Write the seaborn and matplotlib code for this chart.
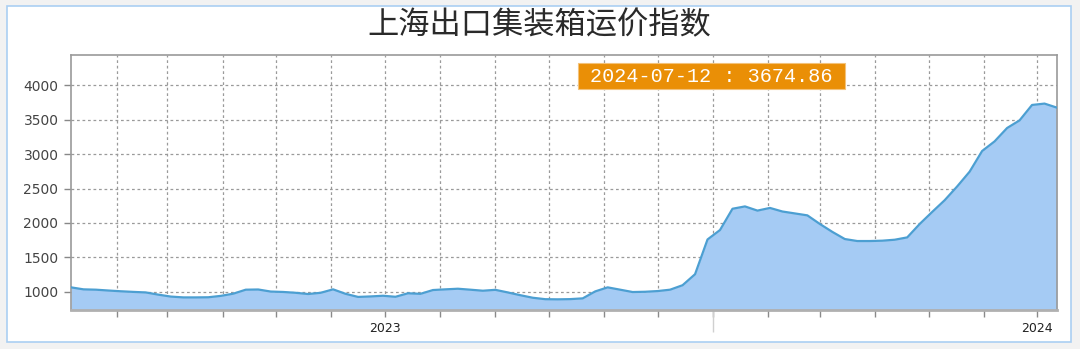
import matplotlib
matplotlib.use("Agg")
import matplotlib.pyplot as plt
import matplotlib.dates as mdates
from matplotlib.patches import Rectangle
import numpy as np
import pandas as pd
import seaborn as sns

# ---- data (weekly index readings) ----
start_date = "2023-01-06"
n_weeks = 80
index_values = [
    1064, 1035, 1030, 1018, 1007, 998, 990, 958, 930, 918,
    918, 920, 940, 972, 1030, 1033, 1003, 997, 985, 967,
    985, 1035, 970, 925, 932, 942, 927, 978, 970, 1025,
    1035, 1044, 1030, 1015, 1028, 990, 950, 913, 892, 890,
    893, 904, 1005, 1064, 1030, 996, 1000, 1010, 1030, 1095,
    1255, 1760, 1897, 2206, 2240, 2179, 2218, 2166, 2138, 2110,
    1985, 1870, 1766, 1737, 1737, 1742, 1756, 1790, 1985, 2160,
    2330, 2530, 2745, 3045, 3185, 3379, 3490, 3714, 3734, 3674.86,
]
title_text = "上海出口集装箱运价指数"
y_ticks = [1000, 1500, 2000, 2500, 3000, 3500, 4000]
year_labels = {"2023-07-01": "2023", "2024-07-01": "2024"}
year_break = "2024-01-01"

dates = pd.date_range(start_date, periods=n_weeks, freq="7D")
df = pd.DataFrame({"date": dates, "value": index_values})

# ---- style ----
sns.set_style("white")
plt.rcParams["font.family"] = ["DejaVu Sans"]

W, H = 1080, 349
fig = plt.figure(figsize=(W / 100, H / 100), dpi=100, facecolor="#f2f2f2")

# white panel with light-blue border
panel = Rectangle((7 / W, 1 - 342 / H), (1071 - 7) / W, (342 - 6) / H,
                  transform=fig.transFigure, facecolor="white",
                  edgecolor="#aacff2", lw=1.2, zorder=-5)
fig.patches.append(panel)

ax = fig.add_axes([71 / W, 1 - 310 / H, (1057 - 71) / W, (310 - 55) / H])
ax.set_zorder(1)
ax.set_facecolor("white")

ax.fill_between(df["date"], df["value"], 700, color="#a5cbf4", lw=0, zorder=2)
sns.lineplot(data=df, x="date", y="value", ax=ax, color="#4c9fd2", lw=1.6, zorder=3)

ax.set_xlim(dates[0], dates[-1])
ax.set_ylim(735, 4440)

# x ticks: month starts, labels only at two positions
month_ticks = pd.date_range("2023-02-01", dates[-1], freq="MS")
ax.xaxis.remove_overlapping_locs = False
ax.set_xticks(month_ticks)
ax.set_xticklabels([year_labels.get(d.strftime("%Y-%m-%d"), "") for d in month_ticks])
ax.set_xticks([pd.Timestamp(year_break)], minor=True)
ax.tick_params(axis="x", which="both", bottom=True)
ax.tick_params(axis="x", which="major", direction="out", length=5, width=1,
               color="#8a8a8a", labelsize=9, labelcolor="#222222", pad=4)
ax.tick_params(axis="x", which="minor", direction="out", length=16, width=1,
               color="#d0d0d0")

ax.set_yticks(y_ticks)
ax.set_yticklabels([str(v) for v in y_ticks])
ax.tick_params(axis="y", left=True, direction="out", length=5, width=1, color="#888888",
               labelsize=10, labelcolor="#444444", pad=4)

ax.set_xlabel("")
ax.set_ylabel("")

# dashed grid
ax.grid(True, which="major", color="#9a9a9a", linestyle=(0, (2.2, 2.2)), lw=0.9, zorder=1)
ax.set_axisbelow(True)

for side in ["left", "bottom", "top", "right"]:
    ax.spines[side].set_visible(True)
    ax.spines[side].set_color("#9a9a9a")
    ax.spines[side].set_linewidth(1.2)
ax.spines["bottom"].set_linewidth(2)
ax.spines["bottom"].set_color("#b0b0b0")

# title
fig.text(539 / W, 1 - 25 / H, title_text, ha="center", va="center", fontsize=22.5,
         color="#2a2a2a", family=["Noto Sans CJK SC", "DejaVu Sans"], fontweight="normal")

# last-value badge
badge = Rectangle((578 / W, 1 - 89 / H), (845 - 578) / W, (89 - 63) / H,
                  transform=fig.transFigure, facecolor="#ea8f06",
                  edgecolor="#f3c27a", lw=0.8, zorder=5)
fig.patches.append(badge)
label = f"{dates[-1]:%Y-%m-%d} : {index_values[-1]:.2f}"
fig.text(711 / W, 1 - 76 / H, label, ha="center", va="center", fontsize=14.5,
         color="white", family="Liberation Mono", zorder=6)

fig.savefig("out.png", dpi=100, facecolor=fig.get_facecolor())
